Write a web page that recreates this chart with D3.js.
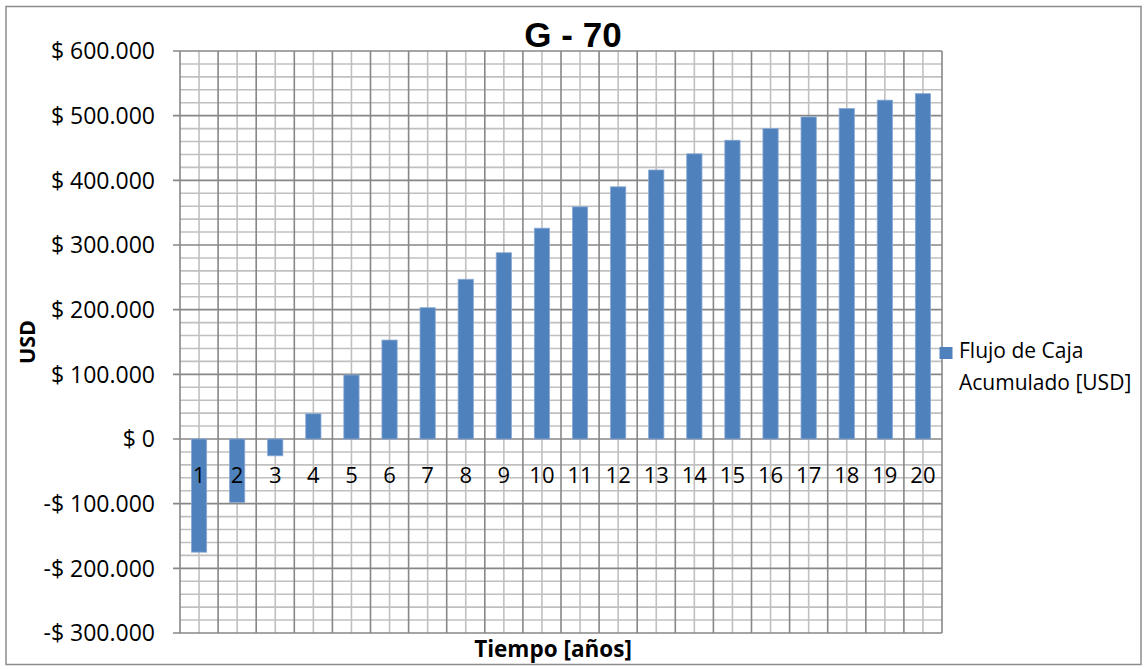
<!DOCTYPE html>
<html>
<head>
<meta charset="utf-8">
<script src="https://cdn.jsdelivr.net/npm/d3@7"></script>
<style>
  html, body { margin: 0; padding: 0; background: #fff; }
  svg { display: block; }
</style>
</head>
<body>
<svg id="chart" width="1144" height="669"></svg>
<script>
// Flujo de caja acumulado por año, proyecto G - 70
const categories = ["1", "2", "3", "4", "5", "6", "7", "8", "9", "10",
                    "11", "12", "13", "14", "15", "16", "17", "18", "19", "20"];
const values = [-175000, -98000, -26000, 39000, 99000, 153000, 203000, 247000, 288000, 326000,
                359000, 390000, 416000, 441000, 462000, 480000, 498000, 511000, 524000, 534000];
const yTicks = [-300000, -200000, -100000, 0, 100000, 200000, 300000, 400000, 500000, 600000];
const yMinorStep = 20000;
const seriesName = ["Flujo de Caja", "Acumulado [USD]"];
const titleText = "G - 70";
const xTitle = "Tiempo [años]";
const yTitle = "USD";

const W = 1144, H = 669;
const plot = { left: 180, right: 942, top: 51, bottom: 633 };
const labelFont = "'Open Sans', 'Liberation Sans', sans-serif";

const svg = d3.select("#chart");

// chart border
svg.append("rect")
  .attr("x", 6).attr("y", 6.5)
  .attr("width", 1135).attr("height", 658)
  .attr("fill", "#fff")
  .attr("stroke", "#8c8c8c")
  .attr("stroke-width", 1.5);

const y = d3.scaleLinear()
  .domain([yTicks[0], yTicks[yTicks.length - 1]])
  .range([plot.bottom, plot.top]);

// bars: gap width 150% of the bar width
const x = d3.scaleBand()
  .domain(categories)
  .range([plot.left, plot.right])
  .paddingInner(0.6)
  .paddingOuter(0.3);

// slot scale for category boundaries / centres used by the grid
const slot = d3.scaleLinear()
  .domain([0, categories.length])
  .range([plot.left, plot.right]);

const grid = svg.append("g");

// minor horizontal lines
const minorY = d3.range(yTicks[0], yTicks[yTicks.length - 1] + 1, yMinorStep)
  .filter(v => !yTicks.includes(v));
grid.selectAll("line.hmin").data(minorY).join("line")
  .attr("x1", plot.left).attr("x2", plot.right)
  .attr("y1", d => y(d)).attr("y2", d => y(d))
  .attr("stroke", "#c0c0c0").attr("stroke-width", 1.6);

// minor vertical lines at category centres
grid.selectAll("line.vmin").data(categories).join("line")
  .attr("x1", (d, i) => slot(i + 0.5)).attr("x2", (d, i) => slot(i + 0.5))
  .attr("y1", plot.top).attr("y2", plot.bottom)
  .attr("stroke", "#c0c0c0").attr("stroke-width", 1.6);

// major vertical lines at category boundaries
grid.selectAll("line.vmaj").data(d3.range(categories.length + 1)).join("line")
  .attr("x1", d => slot(d)).attr("x2", d => slot(d))
  .attr("y1", plot.top).attr("y2", plot.bottom)
  .attr("stroke", "#878787").attr("stroke-width", 1.6);

// major horizontal lines with tick marks
grid.selectAll("line.hmaj").data(yTicks).join("line")
  .attr("x1", plot.left - 7).attr("x2", plot.right)
  .attr("y1", d => y(d)).attr("y2", d => y(d))
  .attr("stroke", "#878787").attr("stroke-width", 1.6);

// bars
svg.append("g").selectAll("rect").data(values).join("rect")
  .attr("x", (d, i) => x(categories[i]))
  .attr("width", x.bandwidth())
  .attr("y", d => y(Math.max(0, d)))
  .attr("height", d => Math.abs(y(d) - y(0)))
  .attr("fill", "#4f81bd")
  .attr("stroke", "#8aa9d4")
  .attr("stroke-width", 0.8);

// y axis labels
const money = v => (v < 0 ? "-" : "") + "$ " + d3.format(",")(Math.abs(v)).replace(/,/g, ".");
svg.append("g").selectAll("text").data(yTicks).join("text")
  .attr("x", 155)
  .attr("y", d => y(d))
  .attr("dy", "0.36em")
  .attr("text-anchor", "end")
  .attr("font-family", labelFont)
  .attr("font-size", 23)
  .attr("fill", "#000")
  .text(d => money(d));

// category labels next to the zero line
svg.append("g").selectAll("text").data(categories).join("text")
  .attr("x", d => x(d) + x.bandwidth() / 2)
  .attr("y", y(0) + 44)
  .attr("text-anchor", "middle")
  .attr("font-family", labelFont)
  .attr("font-size", 22)
  .attr("fill", "#000")
  .text(d => d);

// title
svg.append("text")
  .attr("x", 573).attr("y", 47)
  .attr("text-anchor", "middle")
  .attr("font-family", "'Liberation Sans', Arial, sans-serif")
  .attr("font-weight", "bold")
  .attr("font-size", 35)
  .text(titleText);

// axis titles
svg.append("text")
  .attr("x", 553).attr("y", 657)
  .attr("text-anchor", "middle")
  .attr("font-family", labelFont)
  .attr("font-weight", "bold")
  .attr("font-size", 22.5)
  .text(xTitle);

svg.append("text")
  .attr("transform", `translate(35, ${(plot.top + plot.bottom) / 2}) rotate(-90)`)
  .attr("text-anchor", "middle")
  .attr("font-family", labelFont)
  .attr("font-weight", "bold")
  .attr("font-size", 21.5)
  .text(yTitle);

// legend
const legend = svg.append("g");
legend.append("rect")
  .attr("x", 939.5).attr("y", 347)
  .attr("width", 13).attr("height", 12)
  .attr("fill", "#4f81bd");
legend.append("text")
  .attr("font-family", labelFont)
  .attr("font-size", 21)
  .selectAll("tspan").data(seriesName).join("tspan")
  .attr("x", 959)
  .attr("y", (d, i) => 358 + i * 31.5)
  .text(d => d);
</script>
</body>
</html>
